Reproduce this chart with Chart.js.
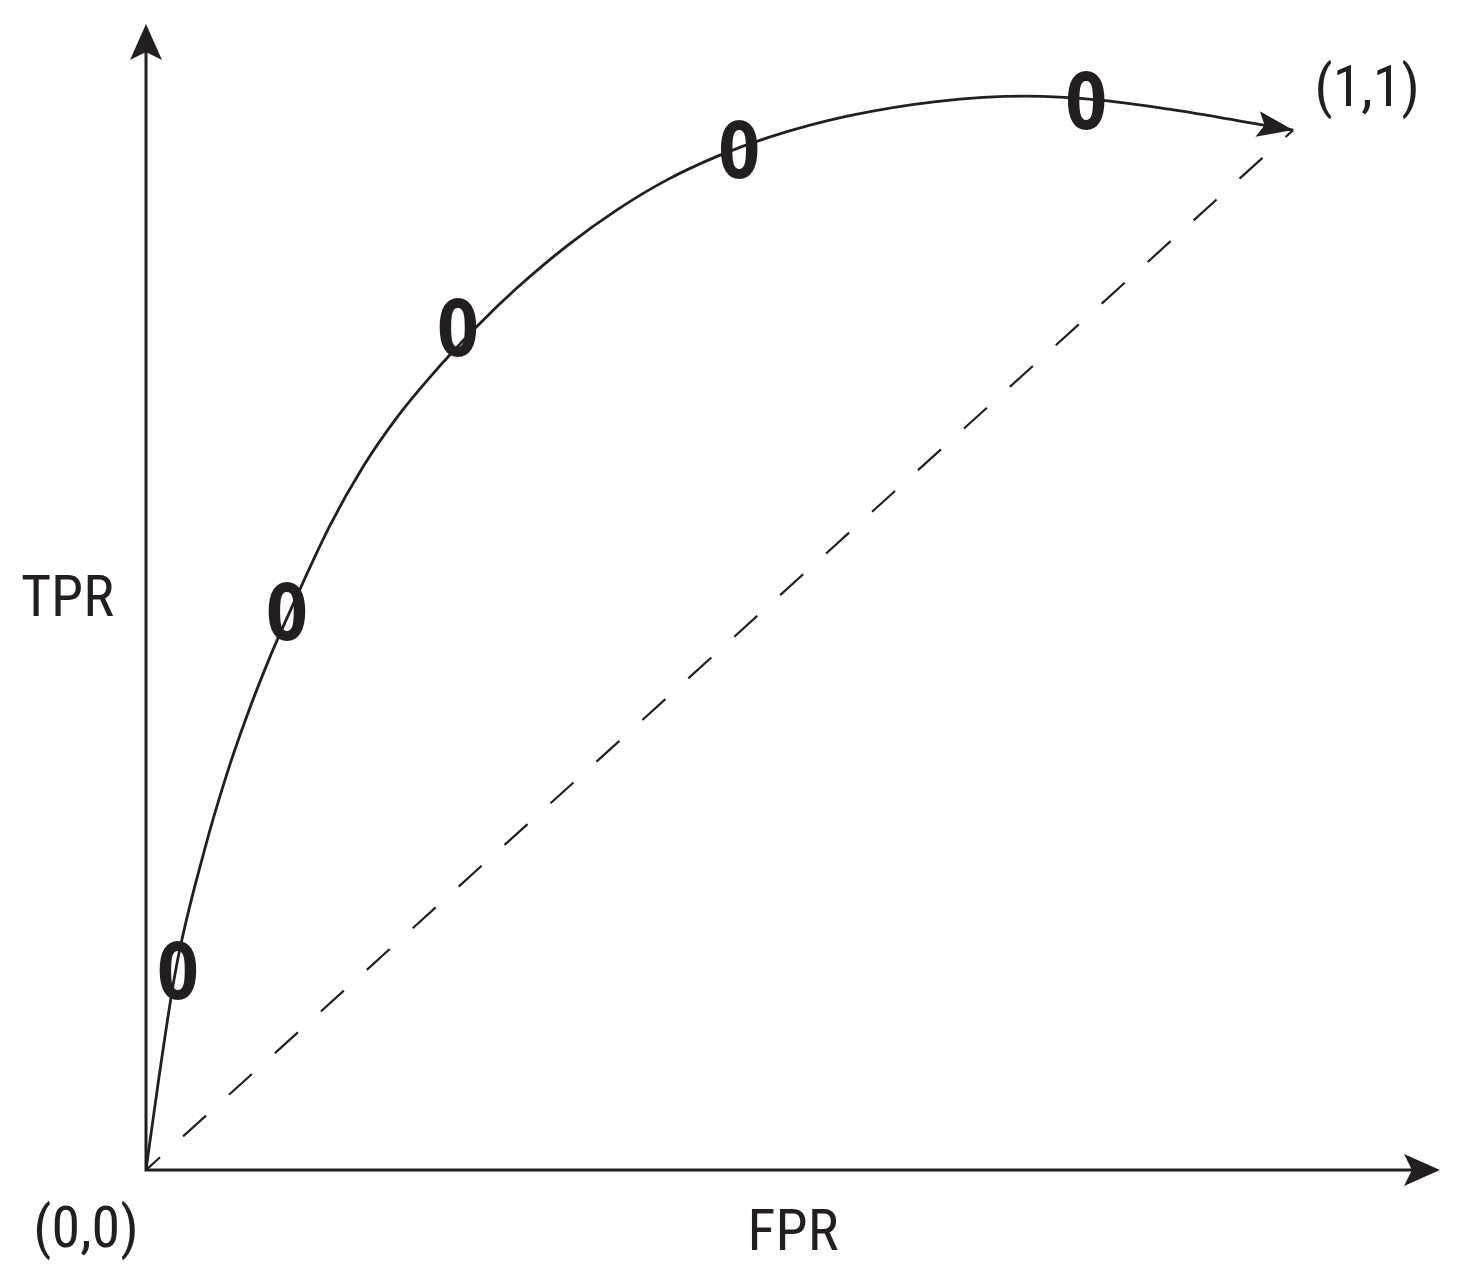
<!DOCTYPE html>
<html>
<head>
<meta charset="utf-8">
<script src="https://cdn.jsdelivr.net/npm/chart.js@4/dist/chart.umd.min.js"></script>
<style>
  html, body { margin: 0; padding: 0; background: #ffffff; }
  #wrap { width: 1482px; height: 1264px; }
</style>
</head>
<body>
<div id="wrap"><canvas id="c" width="1482" height="1264"></canvas></div>
<script>
// ---- data ----
const curveX = [0, 0.0105, 0.0262, 0.0506, 0.0697, 0.0881, 0.1072, 0.1247, 0.1604, 0.1892, 0.2188, 0.2476, 0.2886, 0.3235, 0.3670, 0.4106, 0.4542, 0.4978, 0.5414, 0.6112, 0.6888, 0.7672, 0.8291, 0.8919, 0.9538, 1.0];
const curveY = [0, 0.0830, 0.1941, 0.3062, 0.3781, 0.4370, 0.4910, 0.5352, 0.6199, 0.6763, 0.7238, 0.7625, 0.8113, 0.8483, 0.8887, 0.9233, 0.9521, 0.9747, 0.9925, 1.0133, 1.0274, 1.0326, 1.0291, 1.0201, 1.0087, 1.0];
const diagX = [0, 1];
const diagY = [0, 1];
const markerX = [0.0279, 0.1229, 0.2720, 0.5170, 0.8195];
const markerY = [0.1913, 0.5365, 0.8096, 0.9810, 1.0279];
const markerLabels = ['0', '0', '0', '0', '0'];
const axisMaxX = 1.128;
const axisMaxY = 1.102;
const xAxisTitle = 'FPR';
const yAxisTitle = 'TPR';
const originLabel = '(0,0)';
const cornerLabel = '(1,1)';

const INK = '#231f20';
const toPts = (xs, ys) => xs.map((x, i) => ({ x: x, y: ys[i] }));

function arrowHead(ctx, tx, ty, dx, dy, len, half, notch) {
  const m = Math.hypot(dx, dy); dx /= m; dy /= m;
  const px = -dy, py = dx;
  const bx = tx - dx * len, by = ty - dy * len;
  ctx.beginPath();
  ctx.moveTo(tx, ty);
  ctx.lineTo(bx + px * half, by + py * half);
  ctx.lineTo(tx - dx * (len - notch), ty - dy * (len - notch));
  ctx.lineTo(bx - px * half, by - py * half);
  ctx.closePath();
  ctx.fill();
}

const decor = {
  id: 'decor',
  afterDatasetsDraw(chart) {
    const ctx = chart.ctx;
    const xs = chart.scales.x, ys = chart.scales.y;
    const ox = xs.getPixelForValue(0), oy = ys.getPixelForValue(0);
    const tipX = xs.getPixelForValue(axisMaxX), tipY = ys.getPixelForValue(axisMaxY);
    ctx.save();
    ctx.strokeStyle = INK; ctx.fillStyle = INK;
    ctx.lineWidth = 3; ctx.lineCap = 'butt';
    // axes
    ctx.beginPath();
    ctx.moveTo(ox - 1.5, oy); ctx.lineTo(tipX - 20, oy);
    ctx.moveTo(ox, oy + 1.5); ctx.lineTo(ox, tipY + 20);
    ctx.stroke();
    arrowHead(ctx, tipX, oy, 1, 0, 36, 16, 8);
    arrowHead(ctx, ox, tipY, 0, -1, 36, 16, 8);
    // curve arrow head
    const meta = chart.getDatasetMeta(0);
    const last = meta.data[meta.data.length - 1];
    const prev = meta.data[meta.data.length - 2];
    let dx = last.x - (last.cp1x !== undefined ? last.cp1x : prev.x);
    let dy = last.y - (last.cp1y !== undefined ? last.cp1y : prev.y);
    arrowHead(ctx, last.x, last.y, dx, dy, 36, 13, 7);
    // markers "0"
    const mm = chart.getDatasetMeta(2);
    ctx.font = 'bold 78px "DejaVu Sans", sans-serif';
    ctx.textAlign = 'center';
    ctx.textBaseline = 'alphabetic';
    mm.data.forEach((el, i) => {
      ctx.save();
      ctx.translate(el.x, el.y);
      ctx.scale(0.78, 1);
      ctx.fillText(markerLabels[i], 0, 28);
      ctx.restore();
    });
    // labels
    ctx.font = '58px "Liberation Sans Narrow", "Roboto Condensed", Roboto, "Liberation Sans", sans-serif';
    ctx.textBaseline = 'alphabetic';
    ctx.textAlign = 'center';
    ctx.fillText(xAxisTitle, (xs.left + xs.right) / 2, oy + 80);
    ctx.textAlign = 'right';
    ctx.fillText(yAxisTitle, ox - 32, ys.getPixelForValue(0.553) + 21);
    ctx.textAlign = 'center';
    ctx.fillText(originLabel, ox - 60, oy + 77);
    ctx.fillText(cornerLabel, xs.getPixelForValue(1) + 74, ys.getPixelForValue(1) - 24);
    ctx.restore();
  }
};

new Chart(document.getElementById('c'), {
  type: 'scatter',
  data: {
    datasets: [
      { data: toPts(curveX, curveY), showLine: true, borderColor: INK, borderWidth: 2.8,
        pointRadius: 0, cubicInterpolationMode: 'monotone', fill: false },
      { data: toPts(diagX, diagY), showLine: true, borderColor: INK, borderWidth: 2.2,
        borderDash: [31, 31], borderDashOffset: 12, pointRadius: 0, tension: 0, fill: false },
      { data: toPts(markerX, markerY), showLine: false, pointRadius: 0 }
    ]
  },
  options: {
    responsive: false,
    animation: false,
    events: [],
    layout: { padding: { left: 146, right: 42, top: 24, bottom: 94 } },
    plugins: { legend: { display: false }, tooltip: { enabled: false }, title: { display: false } },
    scales: {
      x: { type: 'linear', min: 0, max: axisMaxX, display: false },
      y: { type: 'linear', min: 0, max: axisMaxY, display: false }
    }
  },
  plugins: [decor]
});
</script>
</body>
</html>
